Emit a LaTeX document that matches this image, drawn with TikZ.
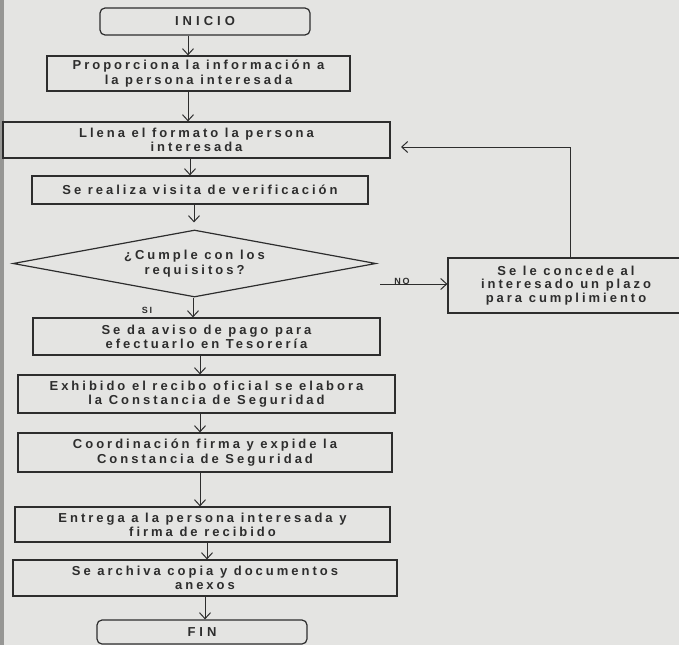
\documentclass[tikz,border=0pt]{standalone}
\usepackage{fontspec}
\setmainfont{Liberation Sans}
\newfontfamily\boxfont[LetterSpace=23]{Liberation Sans Bold}
\newfontfamily\termfont[LetterSpace=31]{Liberation Sans Bold}
\newfontfamily\tagfont[LetterSpace=22]{Liberation Sans Bold}
\usetikzlibrary{arrows.meta,shapes.geometric,calc}

\definecolor{paper}{RGB}{228,228,226}
\definecolor{ink}{RGB}{45,45,45}
\definecolor{scanedge}{RGB}{150,150,148}

\begin{document}
\begin{tikzpicture}[x=1pt,y=-1pt,
  every node/.style={text=ink, align=center},
  txt/.style={font=\boxfont\fontsize{13}{14.3}\selectfont},
  proc/.style={txt, draw=ink, line width=1.2pt, inner sep=0pt},
  term/.style={proc, rounded corners=5pt, font=\termfont\fontsize{13}{14.3}\selectfont},
  decision/.style={proc, diamond, aspect=5.4},
  tag/.style={font=\tagfont\fontsize{9}{10}\selectfont, inner sep=0pt},
  flow/.style={draw=ink, line width=1pt, -{Straight Barb[length=6pt,width=11pt]}}
  ]
  % page
  \fill[paper] (0,0) rectangle (679,645);
  \fill[scanedge] (0,0) rectangle (4,645);
  \useasboundingbox (0,0) rectangle (679,645);

  % main column
  \node[term, minimum width=210pt, minimum height=27pt] (inicio) at (205,21.5) {INICIO};
  \node[proc, minimum width=303pt, minimum height=35pt] (b2) at (198.5,73.5)
    {Proporciona la información a\\la persona interesada};
  \node[proc, minimum width=387pt, minimum height=36pt] (b3) at (196.5,140)
    {Llena el formato la persona\\interesada};
  \node[proc, minimum width=336pt, minimum height=28pt] (b4) at (200,190)
    {Se realiza visita de verificación};
  \node[decision, minimum width=363pt, minimum height=67pt] (dec) at (194.5,263.5)
    {¿Cumple con los\\requisitos?};
  \node[proc, minimum width=347pt, minimum height=37pt] (b5) at (206.5,336.5)
    {Se da aviso de pago para\\efectuarlo en Tesorería};
  \node[proc, minimum width=377pt, minimum height=38pt] (b6) at (206.5,394)
    {Exhibido el recibo oficial se elabora\\la Constancia de Seguridad};
  \node[proc, minimum width=374pt, minimum height=39pt] (b7) at (205,452.5)
    {Coordinación firma y expide la\\Constancia de Seguridad};
  \node[proc, minimum width=375pt, minimum height=35pt] (b8) at (202.5,524.5)
    {Entrega a la persona interesada y\\firma de recibido};
  \node[proc, minimum width=384pt, minimum height=36pt] (b9) at (205,578)
    {Se archiva copia y documentos\\anexos};
  \node[term, minimum width=210pt, minimum height=24pt] (fin) at (202,632) {FIN};

  % side branch
  \node[proc, minimum width=236pt, minimum height=55pt,
        font=\boxfont\fontsize{13}{13.3}\selectfont] (plazo) at (566,285.5)
    {Se le concede al\\interesado un plazo\\para cumplimiento};

  % lanes for the vertical connectors
  \coordinate (xa) at (188,0);
  \coordinate (xb) at (190,0);
  \coordinate (xc) at (194,0);
  \coordinate (xd) at (193,0);
  \coordinate (xe) at (200,0);
  \coordinate (xf) at (207,0);
  \coordinate (xg) at (205,0);

  \draw[flow] (inicio.south -| xa) -- (b2.north -| xa);
  \draw[flow] (b2.south -| xa) -- (b3.north -| xa);
  \draw[flow] (b3.south -| xb) -- (b4.north -| xb);
  \draw[flow, shorten >=7pt] (b4.south -| xc) -- (dec.north -| xc);
  \draw[flow] (dec.south -| xd) -- (b5.north -| xd);
  \draw[flow] (b5.south -| xe) -- (b6.north -| xe);
  \draw[flow] (b6.south -| xe) -- (b7.north -| xe);
  \draw[flow] (b7.south -| xe) -- (b8.north -| xe);
  \draw[flow] (b8.south -| xf) -- (b9.north -| xf);
  \draw[flow] (b9.south -| xg) -- (fin.north -| xg);

  % answer labels
  \node[tag] (si) at (147,310) {SI};
  \coordinate (nostart) at (380,284);
  \draw[flow] (nostart) -- (nostart -| plazo.west);
  \node[tag, anchor=base] (no) at (402,284.5) {NO};

  % return path to the form step
  \coordinate (back) at (401,147);
  \draw[flow] ([xshift=4pt]plazo.north) |- (back);
\end{tikzpicture}
\end{document}
